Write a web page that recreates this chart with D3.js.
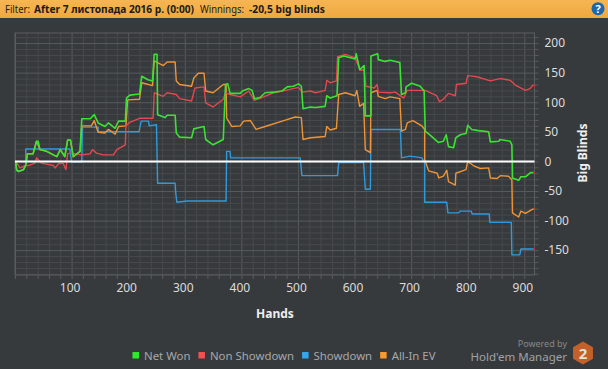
<!DOCTYPE html>
<html>
<head>
<meta charset="utf-8">
<script src="https://cdn.jsdelivr.net/npm/d3@7/dist/d3.min.js"></script>
<style>
  html, body { margin: 0; padding: 0; background: #373a3d; }
  svg { display: block; }
  text { font-family: "Noto Sans", "Open Sans", sans-serif; }
</style>
</head>
<body>
<svg id="chart" width="608" height="369"></svg>
<script>
// [hand, big blinds], each jump gets two close points
const netWon = [[1,0],[3,-15],[6,-17],[15,-14],[19,-6],[22,13],[32,13],[38,34],[41,34],[44,20],[56,17],[74,8],[80,20],[88,8],[93,36],[98,36],[103,8],[115,17],[118,72],[133,72],[140,79],[147,65],[159,59],[165,65],[177,56],[183,68],[195,68],[197,107],[203,112],[220,114],[224,144],[235,138],[243,136],[246,181],[251,181],[252,79],[265,74],[269,78],[283,78],[285,48],[291,41],[312,40],[316,55],[324,57],[334,59],[337,37],[350,28],[368,37],[372,130],[376,131],[380,115],[398,115],[402,119],[413,123],[419,120],[423,106],[433,108],[442,116],[457,117],[472,119],[481,126],[492,127],[501,131],[506,127],[509,89],[522,92],[531,91],[548,93],[551,111],[557,107],[569,111],[572,175],[581,178],[601,173],[603,182],[609,155],[617,162],[619,77],[629,77],[629,178],[641,182],[642,172],[654,169],[663,171],[680,167],[683,113],[690,116],[691,126],[701,132],[716,127],[723,119],[725,51],[734,44],[748,32],[757,34],[762,45],[766,25],[775,23],[779,40],[787,45],[797,47],[800,61],[807,54],[819,52],[837,50],[840,33],[855,34],[857,37],[875,34],[878,28],[879,-28],[890,-32],[894,-26],[902,-26],[911,-19],[917,-19]];
const nonShowdown = [[1,0],[9,-11],[18,-7],[24,-7],[35,-3],[38,6],[47,-3],[68,-7],[71,-11],[77,-4],[85,-3],[90,-14],[93,13],[98,14],[118,11],[133,13],[137,20],[144,14],[156,11],[174,11],[180,20],[195,28],[196,60],[203,66],[221,73],[244,73],[246,116],[262,110],[269,116],[285,113],[291,106],[312,102],[318,124],[334,126],[337,99],[350,92],[368,105],[372,116],[380,113],[398,109],[413,119],[423,103],[434,107],[457,116],[478,120],[501,125],[508,117],[522,119],[531,116],[548,120],[551,137],[557,133],[568,136],[570,177],[584,181],[601,175],[610,154],[617,155],[620,127],[635,124],[640,130],[642,117],[663,116],[672,117],[687,107],[693,120],[725,120],[745,111],[750,101],[757,105],[766,115],[778,111],[780,130],[797,132],[800,145],[816,143],[840,136],[857,140],[875,137],[884,129],[902,120],[910,123],[915,129],[918,128]];
const showdown = [[1,0],[3,-15],[6,-17],[15,-14],[19,-6],[19,21],[62,21],[97,21],[100,-1],[118,-1],[119,58],[147,58],[147,50],[177,50],[219,50],[223,68],[236,68],[237,60],[250,62],[252,-37],[283,-37],[284,-53],[286,-69],[304,-67],[373,-67],[374,17],[380,17],[381,6],[504,6],[507,-24],[570,-24],[572,-2],[616,-2],[619,-47],[628,-47],[629,54],[681,54],[683,6],[698,9],[719,6],[724,-3],[724,-69],[763,-69],[765,-87],[784,-87],[787,-84],[806,-84],[808,-89],[838,-89],[839,-103],[877,-103],[878,-158],[892,-158],[894,-148],[917,-148]];
const allInEv = [[1,0],[3,-15],[6,-17],[15,-14],[19,-6],[22,13],[32,13],[38,34],[44,20],[56,17],[74,8],[80,20],[88,8],[93,36],[98,36],[103,8],[115,17],[118,60],[135,60],[140,69],[147,49],[159,48],[165,54],[177,46],[183,59],[196,60],[199,104],[220,105],[224,133],[243,128],[246,170],[262,162],[269,168],[283,168],[285,136],[291,130],[312,127],[316,141],[324,149],[334,149],[337,119],[350,116],[368,130],[373,130],[374,73],[383,59],[398,60],[404,68],[416,69],[426,54],[442,59],[475,69],[495,75],[506,74],[509,37],[522,40],[548,42],[551,59],[557,53],[568,56],[572,113],[584,116],[601,111],[604,120],[609,93],[616,98],[619,20],[628,15],[629,116],[640,120],[642,110],[654,106],[663,109],[680,106],[683,51],[690,54],[693,65],[703,69],[719,60],[724,54],[724,3],[731,-16],[746,-20],[749,-28],[757,-25],[763,-15],[766,-34],[778,-40],[779,-20],[797,-14],[800,0],[810,-7],[822,-12],[837,-11],[840,-28],[852,-29],[858,-24],[872,-25],[878,-31],[879,-87],[890,-94],[894,-84],[902,-88],[914,-81],[918,-81]];

const seriesNames = ["Net Won", "Non Showdown", "Showdown", "All-In EV"];
const seriesColors = ["#38e431", "#e4474d", "#2f9bdc", "#ee9436"];
const swatchColors = ["#2eea2e", "#f45050", "#35a6ee", "#f79a30"];
const seriesData = [netWon, nonShowdown, showdown, allInEv];
const drawOrder = [2, 3, 1, 0]; // green ends up on top, blue at the bottom

const xTicks = d3.range(0, 901, 20);
const yTicks = d3.range(-190, 211, 10);

const svg = d3.select("#chart");
const plot = { left: 15, right: 534.5, top: 33, bottom: 275 };

const x = d3.scaleLinear().domain([0, 918]).range([plot.left, plot.right]);
const y = d3.scaleLinear().domain([-192, 217]).range([plot.bottom, plot.top]);

svg.append("rect").attr("width", 608).attr("height", 369).attr("fill", "#373a3d");

// header strip
const grad = svg.append("defs").append("linearGradient")
  .attr("id", "head").attr("x1", 0).attr("x2", 0).attr("y1", 0).attr("y2", 1);
grad.append("stop").attr("offset", 0).attr("stop-color", "#f6b653");
grad.append("stop").attr("offset", 1).attr("stop-color", "#efa840");
svg.append("rect").attr("width", 608).attr("height", 18).attr("fill", "url(#head)");

const headerBits = [
  ["Filter:", 5, 400, 25], ["After 7 листопада 2016 р. (0:00)", 34, 700, 160],
  ["Winnings:", 200, 400, 44], ["-20,5 big blinds", 249, 700, 76],
];
svg.selectAll(".head").data(headerBits).join("text")
  .attr("class", "head")
  .attr("x", (d) => d[1]).attr("y", 13)
  .attr("font-size", 10.4)
  .attr("font-weight", (d) => d[2])
  .attr("textLength", (d) => d[3])
  .attr("lengthAdjust", "spacingAndGlyphs")
  .attr("fill", "#1c1a16")
  .text((d) => d[0]);

// help button
svg.append("circle").attr("cx", 598).attr("cy", 8.7).attr("r", 6.5).attr("fill", "#1a68ae");
svg.append("text").attr("x", 598).attr("y", 12.7).attr("text-anchor", "middle")
  .attr("font-size", 11).attr("font-weight", 700).attr("fill", "#fff").text("?");

// grid + axes, the tick lines double as the grid
const gx = svg.append("g").attr("transform", `translate(0,${plot.bottom})`)
  .call(d3.axisBottom(x).tickValues(xTicks)
    .tickSize(-(plot.bottom - plot.top)).tickPadding(8)
    .tickFormat((d) => (d && d % 100 === 0 ? d : "")));
const gy = svg.append("g").attr("transform", `translate(${plot.right},0)`)
  .call(d3.axisRight(y).tickValues(yTicks)
    .tickSize(-(plot.right - plot.left)).tickPadding(10)
    .tickFormat((d) => (d % 50 === 0 ? d : "")));

gx.select(".domain").remove();
gy.select(".domain").remove();
gx.selectAll(".tick line")
  .attr("stroke", (d) => (d % 100 === 0 ? "#585b5d" : "#47494c")).attr("stroke-width", 1);
gy.selectAll(".tick line")
  .attr("stroke", (d) => (d % 50 === 0 ? "#585b5d" : "#47494c")).attr("stroke-width", 1);

// stubs sticking out below and to the right
gx.selectAll(".tick").append("line").attr("y1", 0).attr("y2", 4).attr("stroke", "#585b5d");
gy.selectAll(".tick").append("line").attr("x1", 0).attr("x2", 4).attr("stroke", "#585b5d");

gx.selectAll(".tick text").attr("fill", "#dcdcdc").attr("font-size", 12).attr("dx", -2)
  .attr("font-family", '"Noto Sans", sans-serif');
gy.selectAll(".tick text").attr("fill", "#dcdcdc").attr("font-size", 12)
  .attr("font-family", '"Noto Sans", sans-serif');

// plot frame
svg.append("rect")
  .attr("x", plot.left).attr("y", plot.top)
  .attr("width", plot.right - plot.left).attr("height", plot.bottom - plot.top)
  .attr("fill", "none").attr("stroke", "#5c5f61");

// series
const line = d3.line().x((d) => x(d[0])).y((d) => y(d[1]));
svg.append("g").selectAll("path").data(drawOrder).join("path")
  .attr("d", (i) => line(seriesData[i]))
  .attr("fill", "none")
  .attr("stroke", (i) => seriesColors[i])
  .attr("stroke-width", (i) => (i === 0 ? 1.6 : 1.4))
  .attr("stroke-linejoin", "round");

// small red tip at the end of every line
svg.append("g").selectAll("rect").data(seriesData).join("rect")
  .attr("x", (d) => x(d[d.length - 1][0]) - 1)
  .attr("y", (d) => y(d[d.length - 1][1]) - 0.7)
  .attr("width", 2).attr("height", 1.4).attr("fill", "#f01c2c");

// zero line
svg.append("line")
  .attr("x1", plot.left).attr("x2", plot.right)
  .attr("y1", y(0)).attr("y2", y(0))
  .attr("stroke", "#fff").attr("stroke-width", 2);

// axis titles
svg.append("text").attr("x", 275).attr("y", 318).attr("text-anchor", "middle")
  .attr("font-size", 12).attr("font-weight", 700).attr("fill", "#eee").text("Hands");
svg.append("text").attr("transform", "translate(587,153) rotate(-90)").attr("text-anchor", "middle")
  .attr("font-size", 12).attr("font-weight", 700).attr("fill", "#eee").text("Big Blinds");

// legend, each item flows on from the width of the one before
let legendX = 132.5;
seriesNames.forEach((name, i) => {
  svg.append("rect").attr("x", legendX).attr("y", 352).attr("width", 6.5).attr("height", 6.5)
    .attr("fill", swatchColors[i]);
  const t = svg.append("text").attr("x", legendX + 11.5).attr("y", 360)
    .attr("font-size", 11.4).attr("fill", "#a6a8aa").text(name);
  legendX += 11.5 + t.node().getComputedTextLength() + 8;
});

// branding
svg.append("text").attr("x", 567).attr("y", 347).attr("text-anchor", "end")
  .attr("font-size", 9).attr("fill", "#858789").text("Powered by");
svg.append("text").attr("x", 567).attr("y", 361).attr("text-anchor", "end")
  .attr("font-size", 11.5).attr("fill", "#a0a2a4").text("Hold'em Manager");
const hexR = 11.5;
svg.append("path")
  .attr("d", d3.line()(d3.range(6).map((k) => {
    const a = Math.PI / 3 * k;
    return [583 + hexR * Math.sin(a), 353 - hexR * Math.cos(a)];
  })) + "Z")
  .attr("fill", "#c4602a");
svg.append("text").attr("x", 583).attr("y", 358.5).attr("text-anchor", "middle")
  .attr("font-size", 15).attr("font-weight", 700).attr("fill", "#e4e0da").text("2");
</script>
</body>
</html>
